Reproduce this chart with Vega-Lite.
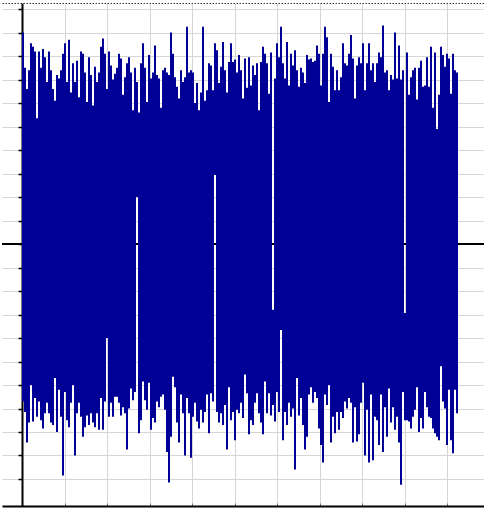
{
  "$schema": "https://vega.github.io/schema/vega-lite/v6.json",
  "width": 482,
  "height": 503,
  "autosize": {"type": "none"},
  "padding": {"left": 2, "top": 3, "right": 0, "bottom": 3},
  "background": "white",
  "config": {"view": {"stroke": null}},
  "layer": [
    {
      "data": {"values": [{}]},
      "mark": {"type": "rule", "color": "black", "strokeWidth": 2},
      "encoding": {"y": {"datum": 0, "type": "quantitative"}}
    },
    {
      "data": {"values": [
        {"i":0,"h":9.0,"l":-6.7},{"i":1,"h":7.5,"l":-7.15},{"i":2,"h":6.6,"l":-8.45},{"i":3,"h":7.4,"l":-7.6},{"i":4,"h":8.55,"l":-6.0},{"i":5,"h":8.4,"l":-7.55},{"i":6,"h":8.2,"l":-6.55},{"i":7,"h":5.35,"l":-7.35},{"i":8,"h":8.2,"l":-6.7},{"i":9,"h":7.5,"l":-7.5},
        {"i":10,"h":8.3,"l":-7.85},{"i":11,"h":7.95,"l":-7.2},{"i":12,"h":6.9,"l":-6.75},{"i":13,"h":8.2,"l":-7.2},{"i":14,"h":7.4,"l":-7.6},{"i":15,"h":6.6,"l":-7.7},{"i":16,"h":6.1,"l":-5.7},{"i":17,"h":7.2,"l":-8.0},{"i":18,"h":7.05,"l":-6.2},{"i":19,"h":7.4,"l":-7.35},
        {"i":20,"h":8.1,"l":-9.85},{"i":21,"h":8.55,"l":-6.3},{"i":22,"h":6.9,"l":-7.5},{"i":23,"h":8.7,"l":-7.8},{"i":24,"h":6.45,"l":-6.75},{"i":25,"h":7.7,"l":-6.0},{"i":26,"h":6.9,"l":-9.0},{"i":27,"h":7.8,"l":-7.2},{"i":28,"h":6.25,"l":-6.75},{"i":29,"h":8.2,"l":-7.35},
        {"i":30,"h":8.1,"l":-8.2},{"i":31,"h":7.3,"l":-7.8},{"i":32,"h":6.05,"l":-7.3},{"i":33,"h":7.95,"l":-7.7},{"i":34,"h":7.2,"l":-7.2},{"i":35,"h":5.9,"l":-7.6},{"i":36,"h":7.55,"l":-7.8},{"i":37,"h":6.9,"l":-7.2},{"i":38,"h":7.3,"l":-7.9},{"i":39,"h":8.4,"l":-6.55},
        {"i":40,"h":8.75,"l":-7.9},{"i":41,"h":8.1,"l":-6.7},{"i":42,"h":6.6,"l":-4.0},{"i":43,"h":8.2,"l":-7.35},{"i":44,"h":7.6,"l":-6.75},{"i":45,"h":7.0,"l":-7.35},{"i":46,"h":7.25,"l":-6.5},{"i":47,"h":7.5,"l":-6.5},{"i":48,"h":8.1,"l":-6.75},{"i":49,"h":7.9,"l":-7.3},
        {"i":50,"h":6.35,"l":-6.95},{"i":51,"h":7.1,"l":-7.2},{"i":52,"h":7.7,"l":-8.75},{"i":53,"h":7.95,"l":-7.0},{"i":54,"h":7.3,"l":-6.15},{"i":55,"h":5.7,"l":-6.65},{"i":56,"h":7.5,"l":-6.3},{"i":57,"h":6.9,"l":2.0},{"i":58,"h":5.6,"l":-8.05},{"i":59,"h":7.7,"l":-7.5},
        {"i":60,"h":8.55,"l":-5.85},{"i":61,"h":7.5,"l":-6.65},{"i":62,"h":6.05,"l":-7.05},{"i":63,"h":8.05,"l":-5.9},{"i":64,"h":7.05,"l":-7.9},{"i":65,"h":7.3,"l":-7.4},{"i":66,"h":8.45,"l":-7.6},{"i":67,"h":7.2,"l":-6.7},{"i":68,"h":7.05,"l":-6.95},{"i":69,"h":5.8,"l":-6.5},
        {"i":70,"h":7.4,"l":-6.4},{"i":71,"h":7.5,"l":-7.05},{"i":72,"h":7.3,"l":-8.85},{"i":73,"h":7.2,"l":-10.15},{"i":74,"h":9.0,"l":-8.2},{"i":75,"h":8.1,"l":-5.65},{"i":76,"h":7.1,"l":-6.1},{"i":77,"h":6.7,"l":-7.6},{"i":78,"h":6.2,"l":-8.45},{"i":79,"h":7.4,"l":-6.4},
        {"i":80,"h":6.9,"l":-7.2},{"i":81,"h":7.1,"l":-9.0},{"i":82,"h":9.25,"l":-6.55},{"i":83,"h":7.3,"l":-7.2},{"i":84,"h":7.4,"l":-9.1},{"i":85,"h":7.3,"l":-7.35},{"i":86,"h":6.0,"l":-6.75},{"i":87,"h":6.85,"l":-7.55},{"i":88,"h":5.7,"l":-7.85},{"i":89,"h":6.45,"l":-7.05},
        {"i":90,"h":9.25,"l":-7.6},{"i":91,"h":6.1,"l":-7.15},{"i":92,"h":6.55,"l":-6.4},{"i":93,"h":7.7,"l":-8.05},{"i":94,"h":7.6,"l":-6.35},{"i":95,"h":6.55,"l":-6.7},{"i":96,"h":8.55,"l":2.94},{"i":97,"h":8.25,"l":-7.15},{"i":98,"h":6.85,"l":-7.6},{"i":99,"h":7.55,"l":-7.2},
        {"i":100,"h":8.6,"l":-7.7},{"i":101,"h":7.4,"l":-6.85},{"i":102,"h":6.45,"l":-8.75},{"i":103,"h":7.75,"l":-6.1},{"i":104,"h":8.55,"l":-7.5},{"i":105,"h":7.75,"l":-7.15},{"i":106,"h":7.85,"l":-8.35},{"i":107,"h":7.3,"l":-7.05},{"i":108,"h":8.05,"l":-7.2},{"i":109,"h":7.4,"l":-6.75},
        {"i":110,"h":6.2,"l":-7.4},{"i":111,"h":7.9,"l":-5.55},{"i":112,"h":6.65,"l":-6.35},{"i":113,"h":7.95,"l":-8.1},{"i":114,"h":6.75,"l":-7.5},{"i":115,"h":7.6,"l":-7.7},{"i":116,"h":7.2,"l":-6.75},{"i":117,"h":7.7,"l":-6.35},{"i":118,"h":5.7,"l":-7.2},{"i":119,"h":7.75,"l":-7.6},
        {"i":120,"h":8.4,"l":-8.1},{"i":121,"h":8.1,"l":-5.85},{"i":122,"h":7.7,"l":-7.2},{"i":123,"h":6.4,"l":-6.35},{"i":124,"h":8.15,"l":-7.3},{"i":125,"h":-2.8,"l":-6.85},{"i":126,"h":7.05,"l":-7.55},{"i":127,"h":8.55,"l":-6.3},{"i":128,"h":7.95,"l":-7.15},{"i":129,"h":9.25,"l":-3.66},
        {"i":130,"h":7.7,"l":-8.35},{"i":131,"h":7.05,"l":-7.15},{"i":132,"h":8.6,"l":-7.7},{"i":133,"h":6.75,"l":-6.75},{"i":134,"h":8.1,"l":-7.35},{"i":135,"h":7.6,"l":-7.0},{"i":136,"h":8.25,"l":-9.6},{"i":137,"h":7.4,"l":-5.7},{"i":138,"h":6.7,"l":-7.3},{"i":139,"h":7.5,"l":-6.55},
        {"i":140,"h":7.3,"l":-7.7},{"i":141,"h":6.85,"l":-8.75},{"i":142,"h":8.05,"l":-8.2},{"i":143,"h":7.85,"l":-6.4},{"i":144,"h":7.9,"l":-6.1},{"i":145,"h":7.75,"l":-6.75},{"i":146,"h":7.8,"l":-6.3},{"i":147,"h":8.45,"l":-6.55},{"i":148,"h":8.1,"l":-7.85},{"i":149,"h":6.75,"l":-8.55},
        {"i":150,"h":8.1,"l":-9.3},{"i":151,"h":9.25,"l":-6.4},{"i":152,"h":8.8,"l":-6.85},{"i":153,"h":6.05,"l":-6.0},{"i":154,"h":8.1,"l":-8.45},{"i":155,"h":7.55,"l":-7.35},{"i":156,"h":6.55,"l":-8.05},{"i":157,"h":7.4,"l":-7.15},{"i":158,"h":6.55,"l":-7.9},{"i":159,"h":7.1,"l":-7.15},
        {"i":160,"h":8.55,"l":-7.4},{"i":161,"h":7.7,"l":-6.7},{"i":162,"h":7.6,"l":-7.0},{"i":163,"h":8.1,"l":-6.55},{"i":164,"h":8.9,"l":-6.75},{"i":165,"h":7.9,"l":-8.45},{"i":166,"h":6.2,"l":-6.95},{"i":167,"h":7.6,"l":-8.4},{"i":168,"h":7.95,"l":-8.1},{"i":169,"h":7.7,"l":-6.75},
        {"i":170,"h":8.55,"l":-5.9},{"i":171,"h":6.55,"l":-9.0},{"i":172,"h":7.7,"l":-7.05},{"i":173,"h":8.55,"l":-9.3},{"i":174,"h":7.4,"l":-6.4},{"i":175,"h":7.7,"l":-9.2},{"i":176,"h":6.9,"l":-7.35},{"i":177,"h":7.7,"l":-7.5},{"i":178,"h":8.15,"l":-8.55},{"i":179,"h":7.95,"l":-6.4},
        {"i":180,"h":9.3,"l":-8.85},{"i":181,"h":7.3,"l":-6.95},{"i":182,"h":7.4,"l":-8.2},{"i":183,"h":6.55,"l":-6.15},{"i":184,"h":7.2,"l":-7.6},{"i":185,"h":7.0,"l":-6.95},{"i":186,"h":9.0,"l":-7.9},{"i":187,"h":7.05,"l":-7.35},{"i":188,"h":8.45,"l":-8.45},{"i":189,"h":7.0,"l":-10.25},
        {"i":190,"h":7.4,"l":-6.3},{"i":191,"h":-2.94,"l":-7.5},{"i":192,"h":8.15,"l":-7.5},{"i":193,"h":6.35,"l":-7.55},{"i":194,"h":7.1,"l":-7.85},{"i":195,"h":7.4,"l":-7.35},{"i":196,"h":7.5,"l":-7.05},{"i":197,"h":6.15,"l":-6.1},{"i":198,"h":7.5,"l":-8.0},{"i":199,"h":7.8,"l":-7.4},
        {"i":200,"h":6.7,"l":-7.85},{"i":201,"h":6.75,"l":-6.3},{"i":202,"h":7.95,"l":-6.95},{"i":203,"h":6.7,"l":-7.35},{"i":204,"h":8.4,"l":-7.4},{"i":205,"h":5.8,"l":-7.85},{"i":206,"h":8.15,"l":-8.05},{"i":207,"h":4.9,"l":-8.2},{"i":208,"h":6.35,"l":-8.35},{"i":209,"h":8.4,"l":-5.2},
        {"i":210,"h":8.05,"l":-6.7},{"i":211,"h":7.55,"l":-7.0},{"i":212,"h":8.1,"l":-8.55},{"i":213,"h":7.9,"l":-6.2},{"i":214,"h":6.4,"l":-8.35},{"i":215,"h":8.1,"l":-8.9},{"i":216,"h":7.4,"l":-6.2},{"i":217,"h":7.3,"l":-7.2}
      ]},
      "mark": {"type": "bar", "width": 2, "color": "#000096"},
      "encoding": {
        "x": {
          "field": "i", "type": "quantitative",
          "scale": {"domain": [-10.5, 230.5], "nice": false, "zero": false, "padding": 0},
          "axis": {
            "values": [20.75, 42, 63.25, 84.5, 105.75, 127, 148.25, 169.5, 190.75, 212],
            "tickCount": 30,
            "grid": true, "gridColor": "#d6d6d6", "gridWidth": 1,
            "domain": true, "domainColor": "black", "domainWidth": 2,
            "ticks": true, "tickSize": -3, "tickColor": "#777777",
            "labels": false, "title": null, "zindex": 0
          }
        },
        "y": {
          "field": "h", "type": "quantitative",
          "scale": {"domain": [-11.15, 10.26], "nice": false, "zero": false, "padding": 0},
          "axis": {
            "values": [-10, -9, -8, -7, -6, -5, -4, -3, -2, -1, 0, 1, 2, 3, 4, 5, 6, 7, 8, 9, 10],
            "tickCount": 30,
            "offset": -20,
            "grid": true, "gridColor": "#d6d6d6", "gridWidth": 1,
            "domain": true, "domainColor": "black", "domainWidth": 2,
            "ticks": true, "tickSize": 4, "tickColor": "black", "tickWidth": 1.5,
            "labels": false, "title": null, "zindex": 0
          }
        },
        "y2": {"field": "l"}
      }
    },
    {
      "data": {"values": [{}]},
      "mark": {"type": "rule", "color": "#333333", "strokeWidth": 1, "strokeDash": [1.5, 1.5]},
      "encoding": {"y": {"datum": 10.24, "type": "quantitative"}}
    }
  ]
}
